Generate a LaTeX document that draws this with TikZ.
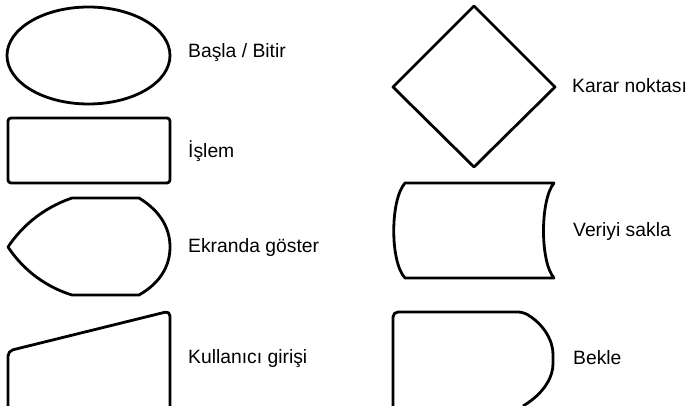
\documentclass[tikz,border=0pt]{standalone}
\usepackage{fontspec}
\setmainfont{Liberation Sans}
\usepackage{tikz}

\tikzset{
    sekil/.style={line width=2.8pt, line join=round, draw=black},
    etiket/.style={anchor=base west, inner sep=0pt, font=\fontsize{19.3}{23}\selectfont}
}

\begin{document}
\begin{tikzpicture}[x=1pt, y=-1pt]
            \useasboundingbox (0,0) rectangle (686,406);
            % sol sutun
            \draw[sekil] (88.5,55.5) ellipse (81.5 and 48.5);
            \node[etiket] (basla) at (188,58) {Başla / Bitir};
            \draw[sekil, rounded corners=3] (8,118) rectangle (170,183);
            \node[etiket] (islem) at (188,158) {İşlem};
            \draw[sekil] (72,198) -- (139,198) .. controls (162,212) and (170,230) .. (170,247)
                .. controls (170,264) and (162,282) .. (139,295) -- (72,295)
                .. controls (40,285) and (20,265) .. (8,247)
                .. controls (20,229) and (40,209) .. (72,198) -- cycle;
            \node[etiket] (ekran) at (188,253) {Ekranda göster};
            \draw[sekil, rounded corners=5] (8,412) -- (8,351) -- (170,311) -- (170,412);
            \node[etiket] (giris) at (188,363) {Kullanıcı girişi};
            % sag sutun
            \draw[sekil] (474,6) -- (555,87) -- (474,167) -- (393,87) -- cycle;
            \node[etiket] (karar) at (572,93) {Karar noktası};
            \draw[sekil] (405,183) -- (554,183) .. controls (540,200) and (540,262) .. (554,278)
                -- (405,278) .. controls (390,262) and (390,200) .. (405,183) -- cycle;
            \node[etiket] (sakla) at (573,237) {Veriyi sakla};
            \draw[sekil, rounded corners=5] (393,412) -- (393,312) -- (523,312)
                .. controls (545,325) and (553,342) .. (553,359)
                .. controls (553,376) and (545,393) .. (523,406);
            \node[etiket] (bekle) at (573,364) {Bekle};
        \end{tikzpicture}
\end{document}
